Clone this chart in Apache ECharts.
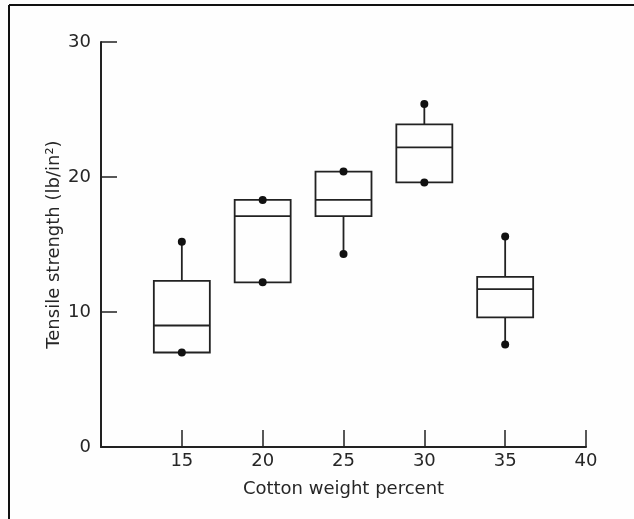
<!DOCTYPE html>
<html>
<head>
<meta charset="utf-8">
<script src="https://cdn.jsdelivr.net/npm/echarts@6/dist/echarts.min.js"></script>
<style>
html,body{margin:0;padding:0;background:#fefefe;}
#chart{width:634px;height:519px;}
</style>
</head>
<body>
<div id="chart"></div>
<script>
// Data
var cottonPercent = [15, 20, 25, 30, 35];
var minValues    = [7.0, 12.2, 14.3, 19.6, 7.6];
var q1Values     = [7.0, 12.2, 17.1, 19.6, 9.6];
var medianValues = [9.0, 17.1, 18.3, 22.2, 11.7];
var q3Values     = [12.3, 18.3, 20.4, 23.9, 12.6];
var maxValues    = [15.2, 18.3, 20.4, 25.4, 15.6];
var yTicks = [0, 10, 20, 30];
var xTicks = [15, 20, 25, 30, 35, 40];

var boxData = cottonPercent.map(function (x, i) {
  return [x, minValues[i], q1Values[i], medianValues[i], q3Values[i], maxValues[i]];
});
var dotData = [];
cottonPercent.forEach(function (x, i) {
  dotData.push([x, maxValues[i]]);
  dotData.push([x, minValues[i]]);
});

var ink = '#222';
var txt = '#262626';
var font = 'DejaVu Sans';
var chart = echarts.init(document.getElementById('chart'), null, {renderer: 'canvas'});

var BOX_W = 56;
function renderBox(params, api) {
  var x = api.value(0);
  var pMin = api.coord([x, api.value(1)]);
  var pQ1 = api.coord([x, api.value(2)]);
  var pMed = api.coord([x, api.value(3)]);
  var pQ3 = api.coord([x, api.value(4)]);
  var pMax = api.coord([x, api.value(5)]);
  var cx = pMed[0], hw = BOX_W / 2;
  var st = {stroke: ink, lineWidth: 1.8, fill: null};
  return {
    type: 'group',
    children: [
      {type: 'line', shape: {x1: cx, y1: pQ3[1], x2: cx, y2: pMax[1]}, style: st},
      {type: 'line', shape: {x1: cx, y1: pQ1[1], x2: cx, y2: pMin[1]}, style: st},
      {type: 'rect', shape: {x: cx - hw, y: pQ3[1], width: BOX_W, height: pQ1[1] - pQ3[1]}, style: st},
      {type: 'line', shape: {x1: cx - hw, y1: pMed[1], x2: cx + hw, y2: pMed[1]}, style: st}
    ]
  };
}

chart.setOption({
  backgroundColor: '#fefefe',
  animation: false,
  grid: {left: 101, right: 48, top: 42, bottom: 72},
  xAxis: {
    type: 'value', min: 10, max: 40, interval: 5,
    name: 'Cotton weight percent', nameLocation: 'middle', nameGap: 33, nameMoveOverlap: false,
    nameTextStyle: {fontFamily: font, fontSize: 18, color: txt},
    axisLine: {show: true, onZero: false, lineStyle: {color: ink, width: 2}},
    axisTick: {show: true, inside: true, length: 17, lineStyle: {color: ink, width: 1.5}},
    axisLabel: {
      fontFamily: font, fontSize: 18, color: txt, margin: 5,
      formatter: function (v) { return xTicks.indexOf(v) >= 0 ? String(v) : ''; }
    },
    splitLine: {show: false}
  },
  yAxis: {
    type: 'value', min: 0, max: 30, interval: 10,
    name: 'Tensile strength (lb/in²)', nameLocation: 'middle', nameGap: 38, nameRotate: 90, nameMoveOverlap: false,
    nameTextStyle: {fontFamily: font, fontSize: 18, color: txt},
    axisLine: {show: true, onZero: false, lineStyle: {color: ink, width: 2}},
    axisTick: {show: true, inside: true, length: 16, lineStyle: {color: ink, width: 1.5}},
    axisLabel: {
      fontFamily: font, fontSize: 18, color: txt, margin: 10,
      formatter: function (v) { return yTicks.indexOf(v) >= 0 ? String(v) : ''; }
    },
    splitLine: {show: false}
  },
  graphic: [
    {type: 'line', shape: {x1: 9, y1: 5, x2: 634, y2: 5}, style: {stroke: '#111', lineWidth: 2}},
    {type: 'line', shape: {x1: 9, y1: 5, x2: 9, y2: 519}, style: {stroke: '#111', lineWidth: 2}}
  ],
  series: [
    {
      type: 'custom',
      renderItem: renderBox,
      encode: {x: 0, y: [1, 2, 3, 4, 5]},
      data: boxData,
      z: 2
    },
    {
      type: 'scatter',
      data: dotData,
      symbol: 'circle',
      symbolSize: 8,
      itemStyle: {color: '#111', opacity: 1},
      z: 3
    }
  ]
});
</script>
</body>
</html>
